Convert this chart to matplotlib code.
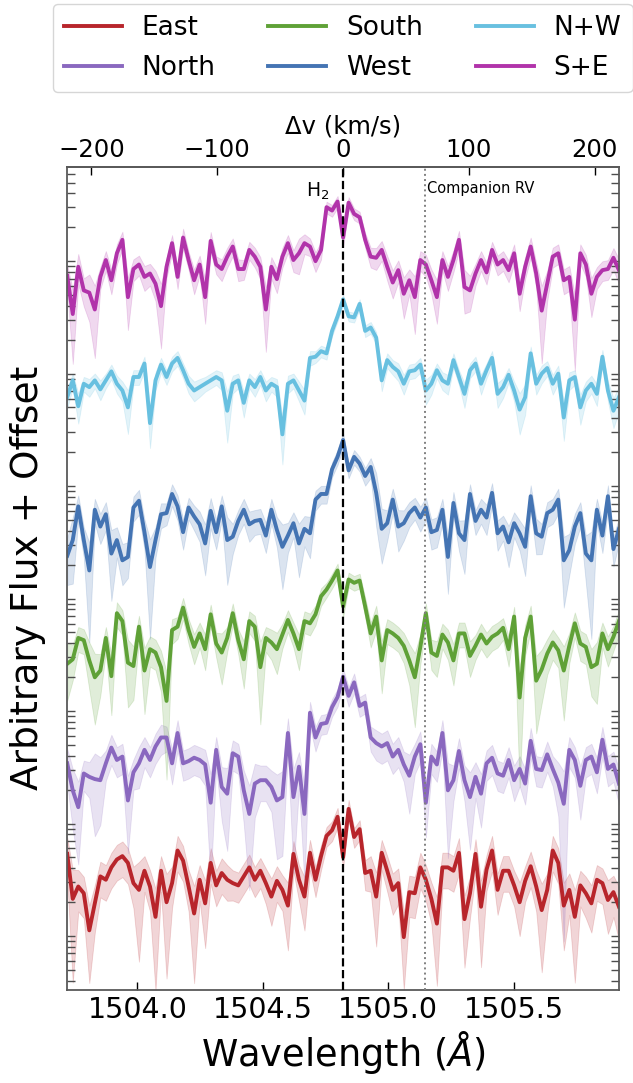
"""
H2 line profiles by region
==========================
Stacked spectra around the H2 1504.8 A line, one per extraction region,
on a log flux axis with a velocity axis on top.
"""

import numpy as np
import matplotlib
matplotlib.use("Agg")   # no display
import matplotlib.pyplot as plt
from matplotlib.ticker import (
    LogLocator, NullFormatter, NullLocator, MultipleLocator, FixedLocator,
    FormatStrFormatter,
)

# ─── Config ───────────────────────────────────────────────────────────────────

C_KMS        = 299792.458
H2_REST      = 1504.82      # Angstrom
COMPANION_RV = 65.0         # km/s
OUT_FILE     = "out.png"

wave = np.linspace(1503.72, 1505.92, 101)
VEL_TICKS = [-200, -100, 0, 100, 200]

REGIONS = ["East", "North", "South", "West", "N+W", "S+E"]
COLORS  = ["#b8252b", "#8a68bf", "#5fa137", "#4474b3", "#68c0e0", "#b133aa"]
OFFSETS = [0.47, 1.505, 2.63, 3.64, 4.91, 5.95]     # log10 offset per spectrum

# ─── Spectra: log10 flux relative to continuum (dex) ──────────────────────────

east_dex = [
    0.26, -0.14, -0.03, -0.09, -0.42, -0.18, 0.06, 0.03, 0.14, 0.21,
    0.24, 0.18, 0.00, -0.06, 0.11, -0.03, -0.30, 0.11, -0.17, 0.00,
    0.29, 0.20, -0.03, -0.27, 0.03, -0.18, 0.18, -0.02, 0.09, 0.03,
    0.00, -0.02, 0.06, 0.14, 0.03, 0.11, 0.00, -0.12, 0.02, -0.06,
    -0.20, 0.26, 0.03, -0.12, 0.27, 0.03, 0.24, 0.42, 0.47, 0.59,
    0.23, 0.66, 0.41, 0.48, 0.09, 0.11, -0.12, 0.27, 0.11, -0.06,
    0.00, -0.48, -0.08, -0.09, 0.14, 0.03, -0.14, -0.36, 0.14, 0.14,
    0.11, 0.27, -0.32, -0.09, 0.26, -0.21, 0.12, 0.29, -0.06, 0.11,
    0.11, -0.02, -0.17, 0.02, 0.15, -0.03, -0.24, -0.06, 0.29, 0.18,
    -0.20, -0.06, -0.30, -0.02, -0.09, -0.18, 0.03, 0.00, -0.15, -0.08,
    -0.21,
]
north_dex = [
    0.03, -0.21, -0.36, -0.06, -0.09, -0.11, -0.12, 0.03, 0.17, 0.06,
    0.09, -0.30, -0.05, 0.03, 0.15, 0.06, 0.18, 0.26, 0.26, 0.03,
    0.30, 0.03, 0.05, 0.08, 0.06, 0.02, -0.32, 0.15, -0.18, -0.24,
    0.12, 0.09, -0.21, -0.42, -0.15, -0.12, -0.12, -0.18, -0.30, -0.27,
    0.30, -0.27, 0.00, -0.42, 0.48, 0.26, 0.38, 0.39, 0.53, 0.62,
    0.80, 0.63, 0.75, 0.54, 0.57, 0.26, 0.21, 0.18, 0.21, 0.09,
    0.15, 0.02, -0.08, 0.09, 0.20, -0.32, 0.09, 0.02, 0.30, -0.21,
    -0.12, 0.14, -0.12, -0.27, -0.09, -0.24, 0.03, 0.08, -0.06, -0.08,
    0.06, -0.12, -0.02, -0.15, 0.23, -0.02, -0.03, 0.11, -0.02, -0.14,
    -0.33, 0.15, 0.06, -0.17, 0.06, 0.09, -0.05, 0.24, -0.02, 0.02,
    -0.15,
]
south_dex = [
    -0.21, -0.17, 0.02, 0.00, -0.18, -0.33, -0.27, 0.02, -0.32, 0.24,
    0.17, -0.20, -0.23, 0.12, -0.27, -0.08, -0.11, -0.24, -0.54, 0.09,
    0.12, 0.29, 0.09, -0.06, 0.06, -0.08, 0.23, -0.03, -0.11, 0.02,
    0.24, 0.00, -0.17, 0.17, 0.12, -0.24, 0.02, -0.02, -0.08, 0.05,
    0.18, 0.06, -0.08, 0.17, 0.15, 0.23, 0.39, 0.45, 0.53, 0.62,
    0.30, 0.54, 0.51, 0.53, 0.30, 0.06, 0.21, -0.18, 0.09, 0.06,
    0.02, -0.05, -0.18, -0.33, -0.06, 0.24, -0.11, -0.14, 0.05, -0.02,
    -0.18, 0.06, 0.06, -0.14, -0.05, 0.05, -0.03, 0.03, 0.06, 0.11,
    -0.08, 0.21, -0.51, 0.02, 0.21, -0.36, -0.26, -0.12, -0.02, -0.09,
    -0.27, -0.05, 0.15, -0.03, -0.06, -0.24, -0.21, 0.06, -0.08, 0.03,
    0.17,
]
west_dex = [
    -0.26, -0.12, 0.18, -0.12, -0.39, 0.15, 0.00, 0.11, -0.24, -0.12,
    -0.30, -0.27, 0.17, 0.23, -0.05, -0.36, -0.12, 0.11, 0.12, 0.29,
    0.18, -0.05, 0.17, 0.09, 0.02, -0.15, 0.14, -0.05, 0.18, -0.12,
    -0.09, 0.05, 0.15, 0.02, 0.05, 0.06, -0.08, 0.15, -0.03, -0.18,
    -0.08, 0.03, -0.15, -0.02, -0.06, 0.24, 0.29, 0.29, 0.51, 0.62,
    0.77, 0.50, 0.62, 0.56, 0.45, 0.53, 0.30, -0.02, 0.03, 0.24,
    0.00, 0.03, 0.12, 0.17, 0.08, 0.17, -0.05, -0.03, 0.15, -0.27,
    0.21, -0.06, -0.12, 0.29, 0.05, 0.15, 0.08, 0.30, -0.06, 0.00,
    -0.14, 0.03, -0.06, -0.18, 0.27, -0.06, -0.09, 0.12, 0.15, 0.24,
    -0.30, -0.21, 0.00, 0.12, -0.24, -0.30, 0.15, -0.08, 0.27, -0.20,
    -0.02,
]
nw_dex = [
    -0.12, 0.03, -0.20, 0.00, -0.03, 0.03, -0.05, 0.03, 0.11, 0.00,
    -0.06, -0.21, 0.06, 0.06, 0.18, -0.35, 0.03, 0.17, 0.06, 0.18,
    0.23, 0.12, 0.00, -0.06, -0.03, 0.00, 0.03, 0.06, 0.03, -0.24,
    0.00, 0.03, -0.17, 0.03, -0.03, 0.06, -0.06, 0.00, -0.03, -0.45,
    0.00, 0.03, -0.06, -0.15, 0.23, 0.24, 0.29, 0.27, 0.47, 0.60,
    0.75, 0.60, 0.59, 0.71, 0.47, 0.50, 0.41, 0.03, 0.21, 0.15,
    0.11, 0.00, 0.11, 0.12, 0.17, -0.06, 0.00, 0.12, 0.03, 0.00,
    0.21, 0.06, -0.09, 0.12, 0.18, 0.00, 0.12, 0.23, -0.09, -0.03,
    0.08, -0.06, -0.23, -0.12, 0.27, 0.00, 0.09, 0.14, 0.00, 0.09,
    -0.30, 0.03, 0.06, -0.21, -0.06, 0.00, -0.09, 0.24, -0.06, -0.24,
    -0.12,
]
se_dex = [
    -0.08, -0.42, 0.00, -0.21, -0.23, -0.38, -0.09, 0.06, -0.12, 0.12,
    0.24, -0.27, -0.02, 0.02, -0.09, -0.06, -0.15, -0.35, 0.00, 0.21,
    -0.09, 0.26, 0.06, -0.12, 0.02, -0.27, 0.23, 0.02, -0.02, 0.09,
    0.18, -0.02, -0.02, 0.15, 0.09, 0.00, -0.38, 0.00, -0.11, 0.09,
    0.21, 0.06, 0.12, 0.21, 0.18, 0.05, 0.15, 0.53, 0.50, 0.58,
    0.26, 0.57, 0.47, 0.44, 0.24, 0.09, 0.08, 0.15, 0.00, -0.14,
    -0.03, -0.24, -0.12, -0.27, 0.06, 0.02, -0.12, -0.27, 0.06, -0.09,
    0.06, 0.24, -0.18, -0.21, -0.06, 0.06, -0.05, 0.15, 0.02, 0.06,
    -0.03, 0.12, -0.24, 0.00, 0.18, -0.06, -0.39, -0.15, 0.09, 0.12,
    -0.12, -0.09, -0.47, 0.12, 0.02, -0.24, -0.09, -0.03, -0.02, 0.08,
    -0.03,
]

# ─── Fractional flux errors ───────────────────────────────────────────────────

east_err = [
    0.40, 0.82, 0.40, 0.40, 0.66, 0.45, 0.35, 0.35, 0.35, 0.35,
    0.35, 0.35, 0.40, 0.77, 0.35, 0.40, 0.78, 0.35, 0.79, 0.40,
    0.35, 0.35, 0.40, 0.76, 0.35, 0.60, 0.35, 0.35, 0.35, 0.35,
    0.30, 0.30, 0.30, 0.30, 0.30, 0.30, 0.35, 0.45, 0.35, 0.35,
    0.60, 0.30, 0.35, 0.50, 0.30, 0.30, 0.25, 0.20, 0.20, 0.20,
    0.20, 0.20, 0.20, 0.20, 0.30, 0.35, 0.64, 0.30, 0.35, 0.40,
    0.35, 0.66, 0.40, 0.40, 0.35, 0.35, 0.40, 0.72, 0.35, 0.35,
    0.35, 0.35, 0.63, 0.40, 0.35, 0.71, 0.35, 0.35, 0.40, 0.35,
    0.35, 0.35, 0.50, 0.35, 0.35, 0.40, 0.72, 0.40, 0.35, 0.35,
    0.60, 0.40, 0.74, 0.35, 0.40, 0.45, 0.35, 0.35, 0.50, 0.40,
    0.50,
]
north_err = [
    0.35, 0.55, 0.69, 0.30, 0.35, 0.69, 0.60, 0.30, 0.30, 0.30,
    0.30, 0.66, 0.30, 0.40, 0.30, 0.30, 0.30, 0.30, 0.25, 0.35,
    0.30, 0.30, 0.30, 0.30, 0.30, 0.35, 0.80, 0.30, 0.50, 0.69,
    0.30, 0.30, 0.50, 0.79, 0.50, 0.35, 0.35, 0.40, 0.70, 0.70,
    0.35, 0.79, 0.35, 0.76, 0.25, 0.25, 0.20, 0.20, 0.18, 0.18,
    0.18, 0.20, 0.20, 0.20, 0.20, 0.25, 0.30, 0.30, 0.30, 0.30,
    0.30, 0.30, 0.54, 0.30, 0.30, 0.51, 0.30, 0.30, 0.30, 0.75,
    0.35, 0.30, 0.35, 0.66, 0.35, 0.50, 0.30, 0.30, 0.30, 0.30,
    0.30, 0.35, 0.30, 0.35, 0.30, 0.30, 0.30, 0.30, 0.30, 0.50,
    0.94, 0.30, 0.30, 0.50, 0.30, 0.30, 0.35, 0.30, 0.30, 0.30,
    0.35,
]
south_err = [
    0.53, 0.35, 0.25, 0.25, 0.45, 0.62, 0.40, 0.25, 0.55, 0.25,
    0.25, 0.60, 0.50, 0.25, 0.59, 0.30, 0.30, 0.40, 0.80, 0.25,
    0.22, 0.22, 0.25, 0.30, 0.25, 0.35, 0.22, 0.25, 0.48, 0.25,
    0.22, 0.25, 0.45, 0.22, 0.25, 0.69, 0.25, 0.30, 0.40, 0.25,
    0.22, 0.25, 0.35, 0.22, 0.22, 0.20, 0.18, 0.15, 0.15, 0.15,
    0.20, 0.15, 0.15, 0.15, 0.20, 0.25, 0.25, 0.49, 0.25, 0.25,
    0.25, 0.30, 0.40, 0.64, 0.30, 0.22, 0.30, 0.35, 0.25, 0.30,
    0.40, 0.25, 0.25, 0.35, 0.25, 0.25, 0.25, 0.25, 0.25, 0.22,
    0.30, 0.22, 0.84, 0.30, 0.25, 0.66, 0.50, 0.35, 0.30, 0.30,
    0.64, 0.30, 0.25, 0.30, 0.30, 0.45, 0.56, 0.25, 0.30, 0.25,
    0.25,
]
west_err = [
    0.45, 0.59, 0.25, 0.30, 0.77, 0.25, 0.30, 0.28, 0.62, 0.30,
    0.40, 0.35, 0.25, 0.25, 0.30, 0.77, 0.30, 0.25, 0.22, 0.22,
    0.25, 0.30, 0.22, 0.25, 0.30, 0.48, 0.30, 0.30, 0.25, 0.60,
    0.30, 0.25, 0.25, 0.30, 0.25, 0.25, 0.30, 0.25, 0.30, 0.58,
    0.30, 0.25, 0.50, 0.30, 0.40, 0.20, 0.18, 0.18, 0.15, 0.15,
    0.15, 0.15, 0.15, 0.15, 0.18, 0.20, 0.50, 0.51, 0.30, 0.25,
    0.40, 0.30, 0.25, 0.22, 0.25, 0.22, 0.30, 0.30, 0.25, 0.53,
    0.25, 0.30, 0.50, 0.22, 0.25, 0.25, 0.30, 0.22, 0.30, 0.25,
    0.40, 0.25, 0.30, 0.45, 0.25, 0.35, 0.30, 0.25, 0.25, 0.25,
    0.62, 0.40, 0.30, 0.25, 0.45, 0.80, 0.25, 0.30, 0.25, 0.30,
    0.25,
]
nw_err = [
    0.20, 0.15, 0.30, 0.15, 0.18, 0.15, 0.20, 0.15, 0.15, 0.18,
    0.20, 0.42, 0.15, 0.15, 0.15, 0.40, 0.18, 0.15, 0.15, 0.15,
    0.15, 0.15, 0.18, 0.20, 0.18, 0.15, 0.15, 0.15, 0.18, 0.48,
    0.18, 0.15, 0.26, 0.15, 0.18, 0.15, 0.20, 0.15, 0.18, 0.46,
    0.18, 0.15, 0.20, 0.25, 0.15, 0.12, 0.12, 0.12, 0.10, 0.10,
    0.10, 0.10, 0.10, 0.10, 0.12, 0.12, 0.12, 0.20, 0.15, 0.15,
    0.18, 0.20, 0.15, 0.15, 0.15, 0.25, 0.20, 0.15, 0.18, 0.20,
    0.15, 0.15, 0.25, 0.15, 0.15, 0.20, 0.15, 0.15, 0.25, 0.20,
    0.15, 0.20, 0.40, 0.30, 0.15, 0.20, 0.18, 0.15, 0.20, 0.18,
    0.38, 0.18, 0.15, 0.30, 0.20, 0.18, 0.22, 0.15, 0.20, 0.30,
    0.25,
]
se_err = [
    0.25, 0.64, 0.30, 0.28, 0.45, 0.63, 0.22, 0.20, 0.25, 0.20,
    0.18, 0.49, 0.22, 0.20, 0.25, 0.22, 0.30, 0.58, 0.20, 0.18,
    0.22, 0.20, 0.18, 0.25, 0.20, 0.42, 0.20, 0.18, 0.22, 0.20,
    0.18, 0.22, 0.20, 0.18, 0.20, 0.22, 0.58, 0.22, 0.25, 0.20,
    0.18, 0.22, 0.35, 0.20, 0.18, 0.20, 0.18, 0.12, 0.12, 0.12,
    0.18, 0.12, 0.12, 0.12, 0.15, 0.20, 0.22, 0.20, 0.25, 0.28,
    0.22, 0.40, 0.25, 0.53, 0.20, 0.22, 0.25, 0.42, 0.20, 0.25,
    0.22, 0.20, 0.42, 0.35, 0.22, 0.20, 0.22, 0.18, 0.20, 0.20,
    0.22, 0.20, 0.30, 0.22, 0.20, 0.25, 0.66, 0.30, 0.20, 0.20,
    0.25, 0.25, 0.65, 0.20, 0.22, 0.38, 0.22, 0.20, 0.20, 0.22,
    0.25,
]

SPECTRA = [east_dex, north_dex, south_dex, west_dex, nw_dex, se_dex]
ERRORS  = [east_err, north_err, south_err, west_err, nw_err, se_err]


def lam_to_v(lam):
    return (lam - H2_REST) / H2_REST * C_KMS


def v_to_lam(v):
    return H2_REST * (1 + v / C_KMS)


# ─── Plot ─────────────────────────────────────────────────────────────────────

fig = plt.figure(figsize=(6.33, 10.83), dpi=100)
ax = fig.add_axes([0.1066, 0.0859, 0.8720, 0.7602])

for name, color, off, dex, err in zip(REGIONS, COLORS, OFFSETS, SPECTRA, ERRORS):
    flux = 10 ** (off + np.asarray(dex))
    err = np.asarray(err)
    ax.fill_between(wave, flux * (1 - err), flux * (1 + err),
                    color=color, alpha=0.19, lw=0.6)
    ax.plot(wave, flux, color=color, lw=2.8, label=name)

ax.axvline(H2_REST, color="k", ls="--", lw=1.6, zorder=4)
ax.axvline(v_to_lam(COMPANION_RV), color="gray", ls=":", lw=1.4, zorder=4)
ax.text(H2_REST - 0.053, 0.963, "H$_2$", transform=ax.get_xaxis_transform(),
        ha="right", va="baseline", fontsize=13.5)
ax.text(v_to_lam(COMPANION_RV) + 0.01, 0.9675, "Companion RV",
        transform=ax.get_xaxis_transform(), ha="left", va="baseline", fontsize=10.5)

ax.set_yscale("log")
ax.set_ylim(10 ** -0.48, 10 ** 6.84)
ax.set_xlim(1503.721, 1505.922)

ax.yaxis.set_major_locator(LogLocator(base=10, numticks=20))
ax.yaxis.set_minor_locator(LogLocator(base=10, subs=np.arange(2, 10), numticks=20))
ax.yaxis.set_major_formatter(NullFormatter())
ax.yaxis.set_minor_formatter(NullFormatter())
ax.tick_params(axis="y", which="both", direction="in", left=True, right=True,
               length=6, width=1, color="0.3")

ax.xaxis.set_major_locator(MultipleLocator(0.5))
ax.xaxis.set_minor_locator(NullLocator())
ax.xaxis.set_major_formatter(FormatStrFormatter("%.1f"))
ax.tick_params(axis="x", which="both", direction="in", top=False,
               length=6, width=1, labelsize=20.5, pad=4)

for sp in ax.spines.values():
    sp.set_color("0.35")
    sp.set_linewidth(1.3)

ax.set_xlabel(r"Wavelength ($\AA$)", fontsize=26.5)
ax.set_ylabel("Arbitrary Flux + Offset", fontsize=27, labelpad=12)

top = ax.secondary_xaxis("top", functions=(lam_to_v, v_to_lam))
top.xaxis.set_major_locator(FixedLocator(VEL_TICKS))
top.xaxis.set_minor_locator(NullLocator())
top.tick_params(direction="in", length=6, width=1, labelsize=17.5, pad=3.5)
top.set_xlabel("Δv (km/s)", fontsize=17.5, labelpad=3)
top.spines["top"].set_color("0.35")
top.spines["top"].set_linewidth(1.3)

fig.legend(loc="upper left", bbox_to_anchor=(0.083, 0.9963), ncol=3,
           fontsize=19, handlelength=2.2, handletextpad=0.75,
           columnspacing=2.0, labelspacing=0.53, borderpad=0.42,
           borderaxespad=0)

fig.savefig(OUT_FILE, dpi=100)
plt.close(fig)
print(f"Saved → {OUT_FILE}")
